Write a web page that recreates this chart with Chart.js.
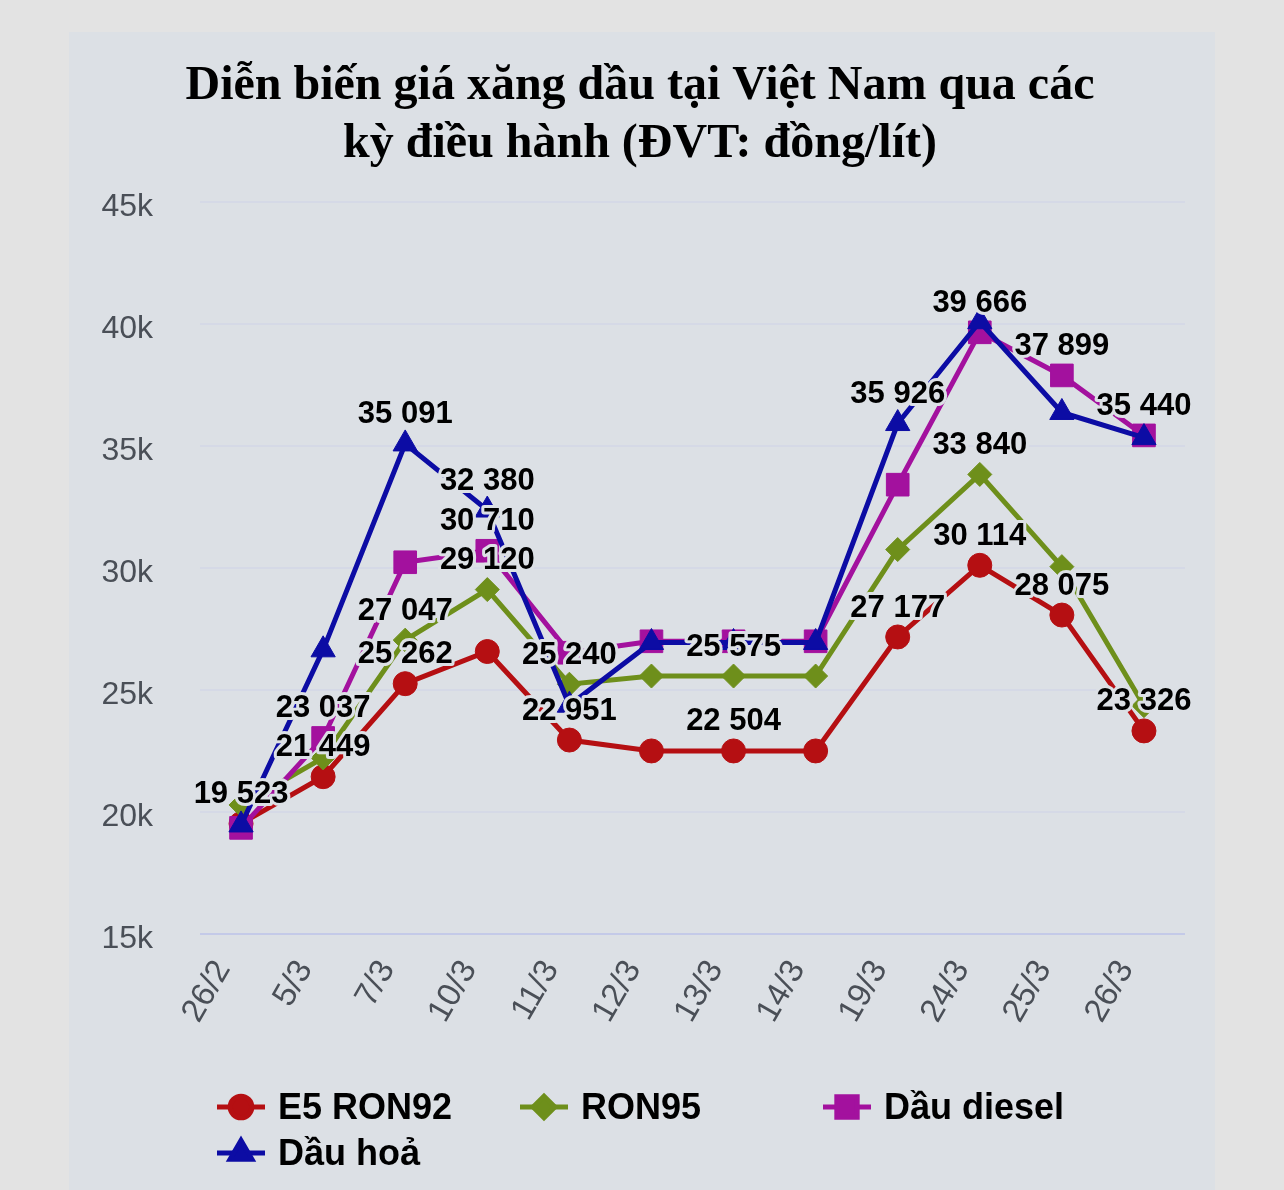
<!DOCTYPE html>
<html><head><meta charset="utf-8">
<script src="https://cdn.jsdelivr.net/npm/chart.js@4.4.1/dist/chart.umd.min.js"></script>
<style>
html,body{margin:0;padding:0;background:#e3e3e3;width:1284px;height:1190px;overflow:hidden}
#panel{position:absolute;left:69px;top:32px;width:1146px;height:1158px;background:#dce0e5}
#wrap{position:absolute;left:0;top:0;width:1284px;height:1190px}
</style></head><body>
<div id="panel"></div>
<div id="wrap"><canvas id="c" width="1284" height="1190"></canvas></div>
<script>
// ---- data ----
const categories = ['26/2','5/3','7/3','10/3','11/3','12/3','13/3','14/3','19/3','24/3','25/3','26/3'];
const seriesNames = ['E5 RON92','RON95','Dầu diesel','Dầu hoả'];
const e5Ron92  = [19523, 21449, 25262, 26580, 22951, 22504, 22504, 22504, 27177, 30114, 28075, 23326];
const ron95    = [20290, 22220, 27047, 29120, 25240, 25575, 25575, 25575, 30760, 33840, 30060, 24360];
const dauDiesel= [19350, 23037, 30240, 30710, 26530, 27000, 27000, 27000, 33420, 39666, 37899, 35440];
const dauHoa   = [19470, 26650, 35091, 32380, 24380, 26950, 26950, 26950, 35926, 40100, 36380, 35350];
// which value labels are visible (others hidden by overlap in the original)
const e5Labels     = [1,1,1,0,1,0,1,0,1,1,1,1];
const ron95Labels  = [0,0,1,1,1,0,1,0,0,1,0,0];
const dieselLabels = [0,1,0,1,0,0,0,0,0,1,1,1];
const hoaLabels    = [0,0,1,1,0,0,0,0,1,0,0,0];
const yMin = 15000, yMax = 45000, yStep = 5000;
const titleLines = ['Diễn biến giá xăng dầu tại Việt Nam qua các', 'kỳ điều hành (ĐVT: đồng/lít)'];

const colors = ['#b50f12', '#6e8f1b', '#a3119e', '#0c0ca4'];
const styles = [
  {pointStyle:'circle', radius:12},
  {pointStyle:'rectRot', radius:12},
  {pointStyle:'rect', radius:16},
  {pointStyle:'triangle', radius:14}
];
const BG = '#dce0e5';
const fmt = v => String(Math.round(v)).replace(/\B(?=(\d{3})+(?!\d))/g, ' ');

const valueSets = [e5Ron92, ron95, dauDiesel, dauHoa];
const labelSets = [e5Labels, ron95Labels, dieselLabels, hoaLabels];

const datasets = valueSets.map((vals, i) => ({
  label: seriesNames[i],
  data: vals,
  borderColor: colors[i],
  backgroundColor: colors[i],
  pointBackgroundColor: colors[i],
  pointBorderColor: colors[i],
  borderWidth: 5,
  pointBorderWidth: 1,
  pointStyle: styles[i].pointStyle,
  pointRadius: styles[i].radius,
  pointHoverRadius: styles[i].radius,
  tension: 0,
  order: 4 - i,
  showLabels: labelSets[i]
}));

const valueLabels = {
  id: 'valueLabels',
  afterDatasetsDraw(chart) {
    const ctx = chart.ctx;
    ctx.save();
    ctx.font = 'bold 31px "Liberation Sans", Arial, sans-serif';
    ctx.textAlign = 'center';
    ctx.textBaseline = 'middle';
    ctx.lineJoin = 'round';
    chart.data.datasets.forEach((ds, di) => {
      const meta = chart.getDatasetMeta(di);
      ds.data.forEach((v, i) => {
        if (!ds.showLabels[i]) return;
        const p = meta.data[i];
        const y = p.y - 29;
        ctx.lineWidth = 6;
        ctx.strokeStyle = BG;
        ctx.strokeText(fmt(v), p.x, y);
        ctx.fillStyle = '#000';
        ctx.fillText(fmt(v), p.x, y);
      });
    });
    ctx.restore();
  }
};

const customLegend = {
  id: 'customLegend',
  afterDraw(chart) {
    const ctx = chart.ctx;
    const x0 = chart.chartArea.left + 17, colW = 303;
    const rowY = [1107, 1153];
    ctx.save();
    chart.data.datasets.forEach((ds, i) => {
      const x = x0 + (i % 3) * colW;
      const y = rowY[Math.floor(i / 3)];
      ctx.strokeStyle = ds.borderColor;
      ctx.lineWidth = 5;
      ctx.beginPath();
      ctx.moveTo(x, y); ctx.lineTo(x + 48, y); ctx.stroke();
      ctx.fillStyle = ds.borderColor;
      Chart.helpers.drawPoint(ctx, {pointStyle: ds.pointStyle, radius: ds.pointRadius * 0.9, borderWidth: 1, rotation: 0}, x + 24, y);
      ctx.fillStyle = '#000';
      ctx.font = 'bold 36px "Liberation Sans", Arial, sans-serif';
      ctx.textAlign = 'left';
      ctx.textBaseline = 'middle';
      ctx.fillText(ds.label, x + 61, y + 2);
    });
    ctx.restore();
  }
};

new Chart(document.getElementById('c'), {
  type: 'line',
  data: { labels: categories, datasets },
  options: {
    responsive: false,
    animation: false,
    events: [],
    layout: { padding: { top: 58, left: 95, right: 99, bottom: 146 } },
    plugins: {
      legend: { display: false },
      tooltip: { enabled: false },
      title: {
        display: true,
        text: titleLines,
        color: '#000',
        font: { family: '"Liberation Serif", "Times New Roman", serif', size: 48, weight: 'bold', lineHeight: 1.2 },
        padding: { top: 0, bottom: 29 }
      }
    },
    scales: {
      x: {
        offset: true,
        grid: { display: false, drawTicks: false },
        border: { display: false },
        ticks: {
          color: '#4a4f57',
          font: { family: '"Liberation Sans", Arial, sans-serif', size: 33 },
          minRotation: 60, maxRotation: 60,
          autoSkip: false,
          padding: 20,
          labelOffset: -18
        },
        afterFit(scale) { scale.height = 110; }
      },
      y: {
        min: yMin, max: yMax,
        grid: {
          drawTicks: false,
          lineWidth: 2,
          color: ctx => ctx.tick && ctx.tick.value === yMin ? '#c4cae8' : '#d5d9e6'
        },
        border: { display: false },
        ticks: {
          stepSize: yStep,
          color: '#4a4f57',
          font: { family: '"Liberation Sans", Arial, sans-serif', size: 32 },
          padding: 47,
          labelOffset: 5,
          callback: v => (v / 1000) + 'k'
        },
        afterFit(scale) { scale.width = 105; }
      }
    }
  },
  plugins: [valueLabels, customLegend]
});
</script>
</body></html>
